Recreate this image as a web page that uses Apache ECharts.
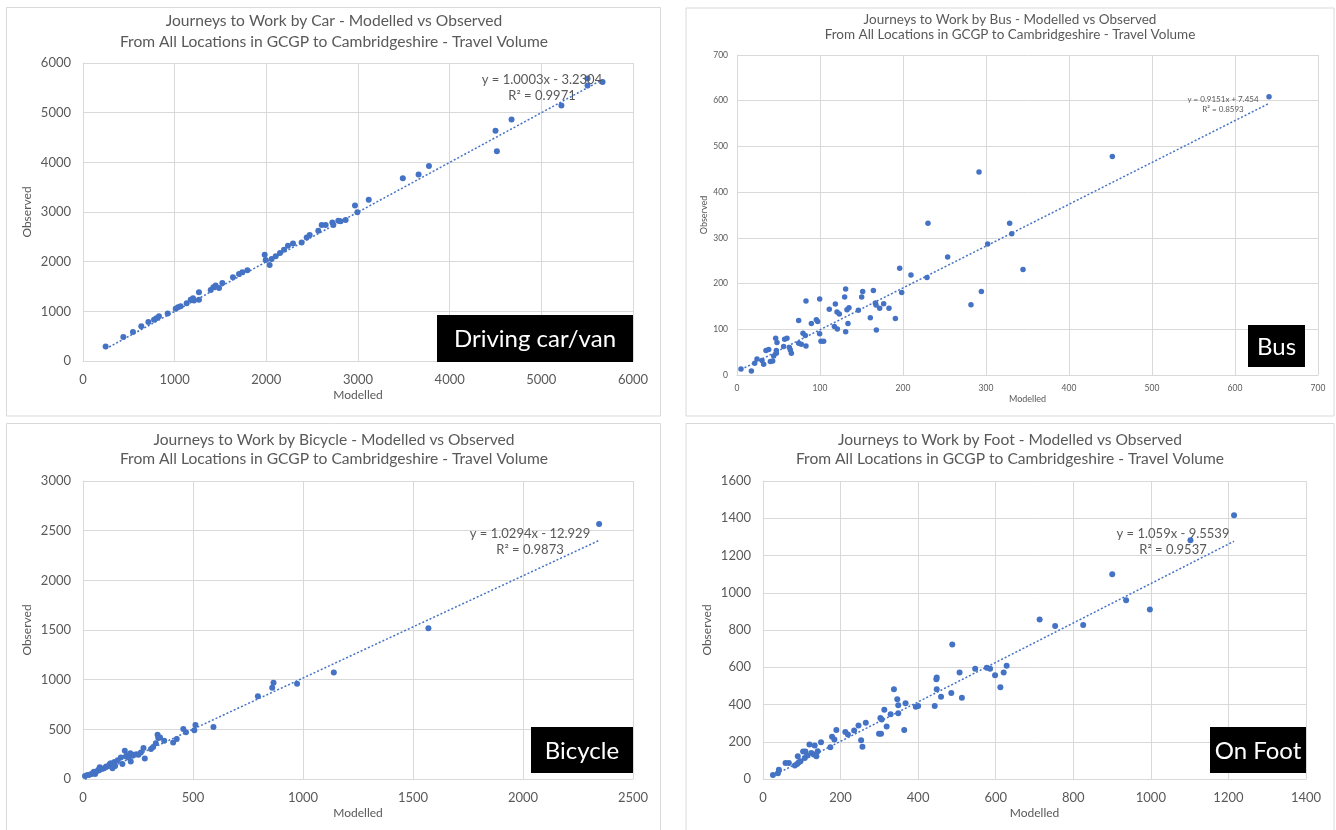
<!DOCTYPE html>
<html>
<head>
<meta charset="utf-8">
<script src="https://cdn.jsdelivr.net/npm/echarts@6/dist/echarts.min.js"></script>
<style>
  html, body { margin: 0; padding: 0; background: #fff; }
  #chart { width: 1336px; height: 830px; }
</style>
</head>
<body>
<div id="chart"></div>
<script>
// Modelled vs Observed, 4 paneles (coche, bus, bici, a pie) con línea de tendencia

const SUBTITLE = 'From All Locations in GCGP to Cambridgeshire - Travel Volume';

// [modelled, observed]
const carPoints = [
  [247,294],[440,482],[545,582],[636,702],[713,783],[775,829],[800,863],[829,903],[924,957],
  [1011,1050],[1036,1084],[1065,1104],[1131,1164],[1175,1231],[1200,1264],[1211,1217],
  [1265,1385],[1265,1231],[1393,1431],[1422,1485],[1447,1518],[1484,1472],[1520,1572],
  [1636,1686],[1702,1753],[1738,1786],[1793,1826],[1982,2140],[1993,2033],[2036,1933],
  [2058,2054],[2102,2107],[2149,2174],[2193,2241],[2236,2321],[2291,2368],[2385,2388],
  [2440,2488],[2473,2535],[2567,2622],[2604,2736],[2647,2736],[2720,2789],[2731,2736],
  [2785,2823],[2810,2812],[2865,2840],[2967,3130],[2993,2995],[3117,3249],[3489,3679],
  [3661,3753],[3774,3928],[4500,4634],[4515,4224],[4675,4863],[5219,5145],[5504,5549],
  [5504,5690],[5668,5616]
];
const busPoints = [
  [4.8,13.2],[17.3,8.8],[21.3,25.6],[24.1,35.2],[30.1,31.5],[32.1,23.4],[34.9,53.5],[38.2,55.7],
  [40.2,29.3],[43,30.8],[44.2,41.8],[46.6,80.6],[47.4,53.5],[48.2,71.1],[47.4,47.6],[56.2,62.3],
  [57.4,78.4],[60.2,80.6],[63.1,60.1],[64.3,54.9],[65.5,47.6],[74.3,119.4],[74.3,69.6],[77.5,67.4],
  [79.5,91.6],[82.3,86.4],[83.1,63.7],[83.1,161.9],[89.6,112.8],[95.6,120.9],[97.2,117.2],
  [99.6,90.1],[99.6,166.3],[101.2,74],[104.4,74],[111.2,143.6],[117.3,106.2],[118.5,155.3],
  [120.5,137.7],[123.3,133.3],[120.9,100.4],[130.9,188.3],[129.7,170.7],[130.9,94.5],[132.5,142.9],
  [133.7,112.8],[134.9,147.3],[146.2,141.4],[150.2,170.7],[151.4,182.4],[160.6,125.3],[164.3,184.6],
  [166.7,157.5],[167.5,153.1],[167.9,98.2],[171.9,145.8],[176.7,156],[183.1,145.8],[190.8,123.8],
  [196,233.7],[198.4,180.2],[209.6,219],[228.9,213.2],[230.1,331.9],[253.8,257.9],[281.9,153.8],
  [291.6,443.8],[294.4,182.4],[302,286.4],[328.5,331.9],[331,309.2],[344.6,230.7],[452.2,478.1],
  [641,608.8]
];
const bikePoints = [
  [9,30],[20,41],[35,47],[46,64],[50,74],[55,51],[65,81],[72,95],[76,118],[85,101],[96,108],
  [105,125],[116,132],[122,150],[126,159],[134,108],[143,172],[146,132],[158,190],[172,216],
  [179,152],[190,284],[195,226],[200,240],[207,216],[215,258],[217,176],[225,233],[233,243],
  [243,250],[252,243],[263,267],[275,311],[281,206],[309,301],[319,321],[331,361],[339,446],
  [342,412],[350,419],[369,385],[410,368],[426,402],[456,503],[468,470],[506,490],[511,544],
  [593,524],[795,834],[860,919],[866,970],[973,959],[1140,1071],[1570,1517],[2346,2568]
];
const footPoints = [
  [25.6,21.6],[38.5,30.6],[41,50.3],[58.1,86.3],[66.7,86.3],[82.1,71.9],[88,80.9],[92.3,89.9],
  [96.6,95.3],[89.7,122.2],[103.4,147.4],[109.4,147.4],[107.7,113.3],[113.7,125.8],[119.7,185.2],
  [124.8,140.2],[130.8,131.2],[133.3,179.8],[137.6,122.2],[141,149.2],[149.6,197.8],[173.5,170.8],
  [178,226.5],[184,212.1],[189.1,262.5],[212.2,251.7],[219,239.1],[235,260.7],[246.2,287.6],
  [253,208.5],[256.4,172.6],[265,302],[299.1,242.7],[304.3,242.7],[302.6,327.2],[306,320],
  [312.8,372.1],[318.8,282.2],[329,347],[337.6,481.8],[346.2,427.9],[348.7,395.5],[348.7,352.4],
  [364.1,262.5],[367.5,406.3],[394,388.3],[400,391.9],[442.7,391.9],[447,535.7],[447.9,544.7],
  [447.9,481.8],[459,442.2],[485.5,462],[488,722.7],[506.8,571.7],[512.8,436.9],[547,591.5],
  [577,596.9],[585.5,591.5],[598.3,557.3],[612,492.6],[620.5,571.7],[628.2,607.6],[713.2,856.6],
  [753.2,820.9],[825.5,826.3],[900.4,1098.9],[936.2,959.9],[997.4,910],[1102.1,1282.4],[1214.5,1416]
];

// coeficientes de la regresión (tal como los muestra Excel)
const carFit  = { slope: 1.0003, intercept: -3.2304, eq: 'y = 1.0003x - 3.2304', r2: 'R² = 0.9971' };
const busFit  = { slope: 0.9151, intercept: 7.454,   eq: 'y = 0.9151x + 7.454',  r2: 'R² = 0.8593' };
const bikeFit = { slope: 1.0294, intercept: -12.929, eq: 'y = 1.0294x - 12.929', r2: 'R² = 0.9873' };
const footFit = { slope: 1.059,  intercept: -9.5539, eq: 'y = 1.059x - 9.5539',  r2: 'R² = 0.9537' };

const BLUE = '#4472C4';
const GREY_TXT = '#595959';
const GRID_LINE = '#d9d9d9';
const FONT = 'Lato, "Open Sans", sans-serif';

const panels = [
  { mode: 'Car', label: 'Driving car/van', pts: carPoints, fit: carFit,
    grid: { left: 83, top: 63, width: 550, height: 298 },
    xMax: 6000, xInt: 1000, yMax: 6000, yInt: 1000, fs: 13, sym: 6,
    box: [6.5, 7.5, 654, 408.5], titleX: 334, titleY: [21, 42], titleFs: 15.6,
    eqX: 542, eqY: [80, 96], eqFs: 13,
    lab: [437, 315, 196, 47], labFs: 24, yGap: 50, xGap: 28, nameFs: 12, lblM: 12 },
  { mode: 'Bus', label: 'Bus', pts: busPoints, fit: busFit,
    grid: { left: 737, top: 55, width: 581, height: 320 },
    xMax: 700, xInt: 100, yMax: 700, yInt: 100, fs: 8.5, sym: 5.5,
    box: [686, 8, 648, 408], titleX: 1010, titleY: [20, 35], titleFs: 13.5,
    eqX: 1223, eqY: [99, 109], eqFs: 8,
    lab: [1248, 325, 57, 42], labFs: 24, yGap: 28, xGap: 20, nameFs: 9, lblM: 9 },
  { mode: 'Bicycle', label: 'Bicycle', pts: bikePoints, fit: bikeFit,
    grid: { left: 83, top: 481, width: 550, height: 298 },
    xMax: 2500, xInt: 500, yMax: 3000, yInt: 500, fs: 13, sym: 6,
    box: [6.5, 423.5, 654, 410], titleX: 334, titleY: [440, 459], titleFs: 15.6,
    eqX: 530, eqY: [534, 550], eqFs: 13,
    lab: [531, 727, 102, 46], labFs: 24, yGap: 50, xGap: 28, nameFs: 12, lblM: 12 },
  { mode: 'Foot', label: 'On Foot', pts: footPoints, fit: footFit,
    grid: { left: 763, top: 481, width: 543, height: 298 },
    xMax: 1400, xInt: 200, yMax: 1600, yInt: 200, fs: 13, sym: 6,
    box: [686, 423.5, 648, 410], titleX: 1010, titleY: [440, 459], titleFs: 15.6,
    eqX: 1173, eqY: [534, 550], eqFs: 13,
    lab: [1210, 727, 96, 46], labFs: 24, yGap: 50, xGap: 28, nameFs: 12, lblM: 12 },
];

function trendLine(pts, fit) {
  const xs = pts.map(p => p[0]);
  const x0 = Math.min(...xs), x1 = Math.max(...xs);
  return [[x0, fit.slope * x0 + fit.intercept], [x1, fit.slope * x1 + fit.intercept]];
}

function text(x, y, str, size, color, extra) {
  return Object.assign({
    type: 'text', x, y, z: 100,
    style: { text: str, fill: color, font: `${size}px ${FONT}`,
             align: 'center', verticalAlign: 'middle', textAlign: 'center', textVerticalAlign: 'middle' },
  }, extra || {});
}

const grids = [], xAxes = [], yAxes = [], series = [], graphics = [];

panels.forEach((p, i) => {
  grids.push(Object.assign({ containLabel: false }, p.grid));
  const axisCommon = {
    type: 'value', gridIndex: i, min: 0,
    axisLine: { show: true, lineStyle: { color: GRID_LINE, width: 1 } },
    axisTick: { show: false },
    splitLine: { show: true, lineStyle: { color: GRID_LINE, width: 1 } },
    axisLabel: { color: GREY_TXT, fontSize: p.fs, fontFamily: FONT, margin: p.lblM,
                 formatter: v => String(v) },
    nameLocation: 'middle',
    nameTextStyle: { color: GREY_TXT, fontSize: p.nameFs, fontFamily: FONT },
  };
  xAxes.push(Object.assign({}, axisCommon, { max: p.xMax, interval: p.xInt, name: 'Modelled', nameGap: p.xGap }));
  yAxes.push(Object.assign({}, axisCommon, { max: p.yMax, interval: p.yInt, name: 'Observed', nameGap: p.yGap }));

  series.push({
    name: p.mode, type: 'scatter', xAxisIndex: i, yAxisIndex: i,
    symbolSize: p.sym, itemStyle: { color: BLUE, opacity: 1 }, data: p.pts, z: 3,
  });
  series.push({
    name: p.mode + ' trend', type: 'line', xAxisIndex: i, yAxisIndex: i,
    symbol: 'none', silent: true, z: 2,
    lineStyle: { color: BLUE, width: 1.5, type: [2, 2] },
    data: trendLine(p.pts, p.fit),
  });

  // borde del panel
  graphics.push({
    type: 'rect', z: 0,
    shape: { x: p.box[0], y: p.box[1], width: p.box[2], height: p.box[3] },
    style: { fill: 'none', stroke: GRID_LINE, lineWidth: 1 },
  });
  // título
  graphics.push(text(p.titleX, p.titleY[0], `Journeys to Work by ${p.mode} - Modelled vs Observed`, p.titleFs, GREY_TXT));
  graphics.push(text(p.titleX, p.titleY[1], SUBTITLE, p.titleFs, GREY_TXT));
  // ecuación
  graphics.push(text(p.eqX, p.eqY[0], p.fit.eq, p.eqFs, GREY_TXT));
  graphics.push(text(p.eqX, p.eqY[1], p.fit.r2, p.eqFs, GREY_TXT));
  // etiqueta negra
  graphics.push({
    type: 'rect', z: 100,
    shape: { x: p.lab[0], y: p.lab[1], width: p.lab[2], height: p.lab[3] },
    style: { fill: '#000' },
  });
  graphics.push(text(p.lab[0] + p.lab[2] / 2, p.lab[1] + p.lab[3] / 2 + 1, p.label, p.labFs, '#fff', { z: 101 }));
});

const chart = echarts.init(document.getElementById('chart'), null, { renderer: 'canvas' });
chart.setOption({
  backgroundColor: '#fff',
  animation: false,
  grid: grids,
  xAxis: xAxes,
  yAxis: yAxes,
  series,
  graphic: graphics,
});
</script>
</body>
</html>
